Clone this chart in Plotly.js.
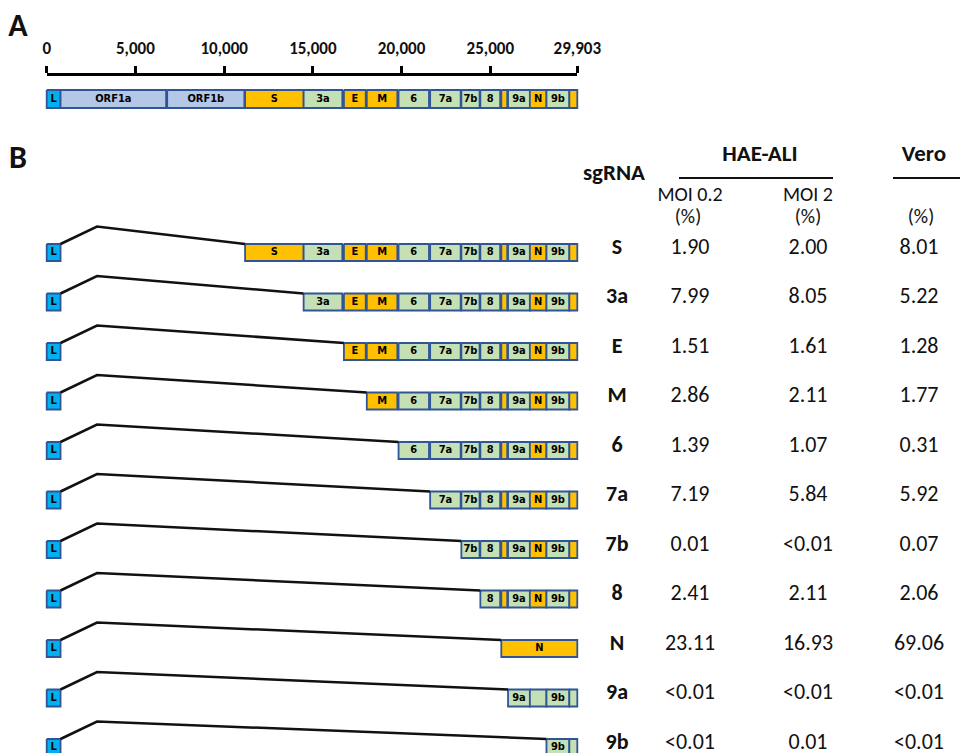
<!DOCTYPE html>
<html><head><meta charset="utf-8">
<script src="https://cdn.plot.ly/plotly-3.0.1.min.js"></script>
<style>body{margin:0;padding:0;background:#fff}</style>
</head><body><div id="chart" style="width:960px;height:753px"></div>
<script>
// ---------- data ----------
const genomeLength = 29903;
const axisTicks = [0, 5000, 10000, 15000, 20000, 25000, 29903];
const axisTickLabels = ['0', '5,000', '10,000', '15,000', '20,000', '25,000', '29,903'];

// schematic genome map (nt units)
const geneNames = ['L', 'ORF1a', 'ORF1b', 'S', '3a', 'E', 'M', '6', '7a', '7b', '8', '', '9a', 'N', '9b', ''];
const geneStart = [0, 780, 6790, 11180, 14480, 16750, 18040, 19830, 21610, 23370, 24440, 25620, 26000, 27230, 28165, 29455];
const geneEnd   = [780, 6730, 11140, 14480, 16660, 17980, 19760, 21545, 23330, 24395, 25555, 25955, 27230, 28165, 29455, 29903];
const geneType  = ['leader', 'orf1', 'orf1', 'struct', 'acc', 'struct', 'struct', 'acc', 'acc', 'acc', 'acc', 'struct', 'acc', 'struct', 'acc', 'struct'];

// sgRNA table
const sgRNA = ['S', '3a', 'E', 'M', '6', '7a', '7b', '8', 'N', '9a', '9b'];
const haeMoi02 = ['1.90', '7.99', '1.51', '2.86', '1.39', '7.19', '0.01', '2.41', '23.11', '<0.01', '<0.01'];
const haeMoi2  = ['2.00', '8.05', '1.61', '2.11', '1.07', '5.84', '<0.01', '2.11', '16.93', '<0.01', '0.01'];
const veroPct  = ['8.01', '5.22', '1.28', '1.77', '0.31', '5.92', '0.07', '2.06', '69.06', '<0.01', '<0.01'];

// special bodies
const nBodyStart = 25620, nBodyEnd = 29903;
const row9aNames = ['9a', '', '9b', ''];
const row9aGeneIdx = [12, 13, 14, 15];
const row9bNames = ['9b', ''];
const row9bGeneIdx = [14, 15];

// ---------- styling / layout ----------
const W = 960, H = 753;
const px0 = 46.7, px1 = 577.3;
const k = (px1 - px0) / genomeLength;
const fills = {leader: '#00B0F0', orf1: '#B4C7E7', struct: '#FFC000', acc: '#C5E0B4'};
const border = '#2F5597';
const boxFont = 'Liberation Sans Narrow, DejaVu Sans Condensed, Lato, sans-serif';
const mainFont = 'Carlito, Lato, sans-serif';
const aTop = 90, aBot = 108;
const rowTop0 = 244, rowStep = 49.5, rowH = 17;
const peakNt = 2835, peakRise = 17.5;

const traces = [];
const labX = [], labY = [], labT = [];
function box(s, e, t, b, type, name) {
  traces.push({type: 'scatter', mode: 'lines', x: [s, e, e, s, s], y: [t, t, b, b, t],
    fill: 'toself', fillcolor: fills[type], line: {color: border, width: 1.8},
    hoverinfo: 'skip', showlegend: false, xaxis: 'x', yaxis: 'y'});
  if (name) { labX.push((s + e) / 2); labY.push((t + b) / 2); labT.push(name); }
}

// Panel A genome bar
for (let i = 0; i < geneNames.length; i++) box(geneStart[i], geneEnd[i], aTop, aBot, geneType[i], geneNames[i]);

// Panel B rows
sgRNA.forEach((g, r) => {
  const t = rowTop0 + r * rowStep, b = t + rowH;
  box(geneStart[0], geneEnd[0], t, b, 'leader', 'L');
  let bodyStart;
  if (g === 'N') {
    box(nBodyStart, nBodyEnd, t, b, 'struct', 'N');
    bodyStart = nBodyStart;
  } else if (g === '9a') {
    row9aGeneIdx.forEach((gi, j) => box(geneStart[gi], geneEnd[gi], t, b, 'acc', row9aNames[j]));
    bodyStart = geneStart[row9aGeneIdx[0]];
  } else if (g === '9b') {
    row9bGeneIdx.forEach((gi, j) => box(geneStart[gi], geneEnd[gi], t, b, 'acc', row9bNames[j]));
    bodyStart = geneStart[row9bGeneIdx[0]];
  } else {
    const i0 = geneNames.indexOf(g);
    for (let i = i0; i < geneNames.length; i++) box(geneStart[i], geneEnd[i], t, b, geneType[i], geneNames[i]);
    bodyStart = geneStart[i0];
  }
  traces.push({type: 'scatter', mode: 'lines', x: [geneEnd[0], peakNt, bodyStart], y: [t, t - peakRise, t],
    line: {color: '#111', width: 2.5}, hoverinfo: 'skip', showlegend: false, xaxis: 'x', yaxis: 'y'});
});

traces.push({type: 'scatter', mode: 'text', x: labX, y: labY, text: labT, textposition: 'middle center',
  textfont: {family: boxFont, size: 11, color: '#000', weight: 'bold'}, hoverinfo: 'skip', showlegend: false, xaxis: 'x', yaxis: 'y'});

// dummy trace to create axis x2 (genome ruler)
traces.push({type: 'scatter', mode: 'markers', x: [0], y: [-500], marker: {opacity: 0}, hoverinfo: 'skip', showlegend: false, xaxis: 'x2', yaxis: 'y'});

// table text (x3 is pixel-scaled)
const rowTextY = sgRNA.map((_, r) => rowTop0 + r * rowStep + 4);
const colX = {label: 617, c1: 690, c2: 808, c3: 919};
function textTrace(xs, ys, txt, size, bold, color) {
  traces.push({type: 'scatter', mode: 'text', x: xs, y: ys, text: txt, textposition: 'middle center',
    textfont: {family: mainFont, size: size, color: color || '#111', weight: bold ? 'bold' : 'normal'},
    hoverinfo: 'skip', showlegend: false, xaxis: 'x3', yaxis: 'y'});
}
textTrace(sgRNA.map(() => colX.label), rowTextY, sgRNA, 22, true);
textTrace(sgRNA.map(() => colX.c1), rowTextY, haeMoi02, 22, false);
textTrace(sgRNA.map(() => colX.c2), rowTextY, haeMoi2, 22, false);
textTrace(sgRNA.map(() => colX.c3), rowTextY, veroPct, 22, false);
// headers
textTrace([614, 760, 924], [174, 155, 155], ['sgRNA', 'HAE-ALI', 'Vero'], 23, true);
textTrace([690, 808], [196, 196], ['MOI 0.2', 'MOI 2'], 20, false);
textTrace([688, 808, 921], [218, 218, 218], ['(%)', '(%)', '(%)'], 20, false);
textTrace([18, 18], [28, 160], ['A', 'B'], 32, true);
// header underlines
traces.push({type: 'scatter', mode: 'lines', x: [679, 833], y: [178, 178], line: {color: '#111', width: 1.8}, hoverinfo: 'skip', showlegend: false, xaxis: 'x3', yaxis: 'y'});
traces.push({type: 'scatter', mode: 'lines', x: [893, 960], y: [178, 178], line: {color: '#111', width: 1.8}, hoverinfo: 'skip', showlegend: false, xaxis: 'x3', yaxis: 'y'});

const layout = {
  width: W, height: H, margin: {l: 0, r: 0, t: 0, b: 0}, paper_bgcolor: '#fff', plot_bgcolor: 'rgba(0,0,0,0)',
  showlegend: false,
  xaxis: {domain: [0, 1], range: [-px0 / k, (W - px0) / k], visible: false, fixedrange: true},
  xaxis3: {overlaying: 'x', range: [0, W], visible: false},
  yaxis: {domain: [0, 1], range: [H, 0], visible: false},
  xaxis2: {domain: [px0 / W, px1 / W], range: [0, genomeLength], anchor: 'free', position: 1 - 74 / H, side: 'top',
    tickmode: 'array', tickvals: axisTicks, ticktext: axisTickLabels, ticks: 'outside', ticklen: 7, tickwidth: 3,
    tickcolor: '#000', showline: true, linewidth: 3, linecolor: '#000', showgrid: false, zeroline: false,
    automargin: false, ticklabelstandoff: 5,
    tickfont: {family: mainFont, size: 17, color: '#111', weight: 'bold'}}
};
Plotly.newPlot('chart', traces, layout, {staticPlot: true, displayModeBar: false});
</script></body></html>
